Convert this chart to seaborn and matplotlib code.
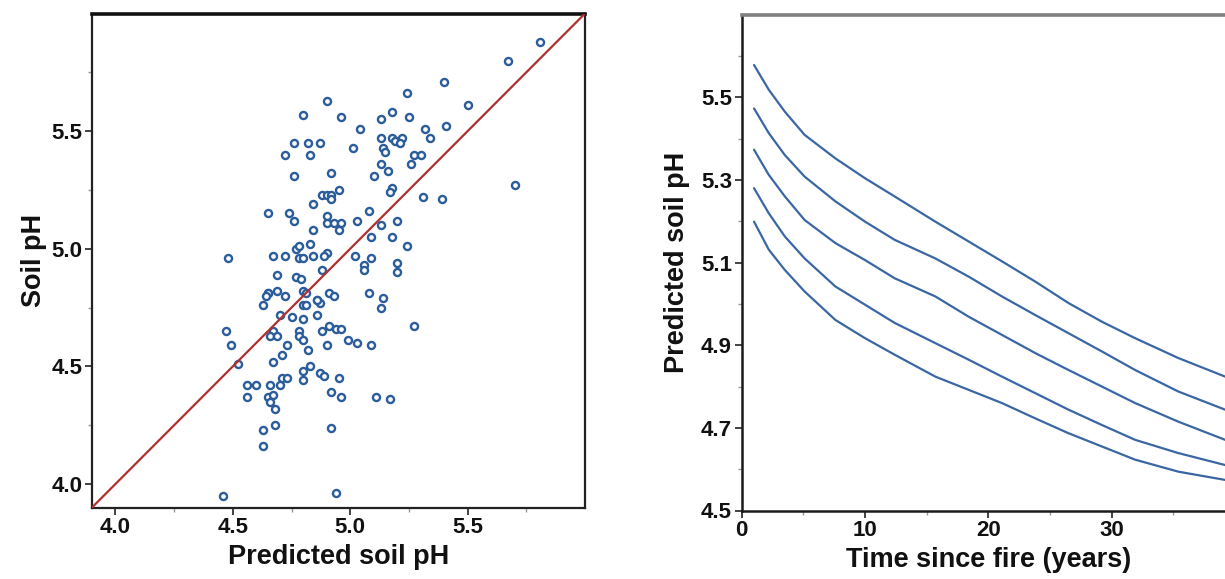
import matplotlib
matplotlib.use("Agg")
import matplotlib.pyplot as plt
from matplotlib.ticker import FixedLocator
import seaborn as sns
import pandas as pd

# Observed vs. model-predicted soil pH for the sampled plots
predicted_ph = [
    4.90, 4.80, 4.96, 5.04, 4.76, 4.82, 4.87, 5.01, 4.72, 4.83, 4.92, 4.76, 4.95, 4.88, 4.90, 4.92, 4.92,
    5.81, 5.67, 5.40, 5.24, 5.50, 5.18, 5.13, 5.25, 5.32, 5.41, 5.13, 5.18, 5.20, 5.22, 5.19, 5.21, 5.34,
    5.14, 5.15, 5.27, 5.30, 5.13, 5.26, 5.16, 5.10, 5.70, 5.18, 5.17, 5.31, 5.39,
    4.84, 4.65, 4.74, 4.76, 4.90, 4.90, 4.93, 4.96, 5.03, 5.08, 4.84, 4.95, 5.09, 4.83, 4.77, 4.78, 4.90,
    4.89, 4.48, 4.67, 4.72, 4.78, 4.80, 4.84, 5.02, 5.09, 4.88, 5.06, 5.06, 4.69, 4.77, 4.79, 4.65, 4.65,
    4.64, 4.69, 4.72, 4.80, 4.81, 4.91, 4.93, 5.08, 4.63, 4.80, 4.81, 4.86, 4.87, 4.86, 4.70, 4.75, 4.80,
    4.86, 4.47, 4.67, 4.66, 4.69, 4.78, 4.78, 4.80, 4.88, 4.91, 4.94, 4.96, 4.99, 5.03, 5.09, 4.49, 4.73,
    4.90, 4.71, 4.82, 4.67, 4.52, 4.83,
    5.13, 5.20, 5.18, 5.24, 5.20, 5.20, 5.14, 5.13, 5.27,
    4.80, 4.80, 4.87, 4.89, 4.95, 4.56, 4.60, 4.66, 4.70, 4.71, 4.73, 4.56, 4.65, 4.67, 4.66, 4.68, 4.92,
    4.96, 5.11, 5.17, 4.68, 4.92, 4.63, 4.63, 4.46, 4.94,
]
observed_ph = [
    5.63, 5.57, 5.56, 5.51, 5.45, 5.45, 5.45, 5.43, 5.40, 5.40, 5.32, 5.31, 5.25, 5.23, 5.23, 5.23, 5.21,
    5.88, 5.80, 5.71, 5.66, 5.61, 5.58, 5.55, 5.56, 5.51, 5.52, 5.47, 5.47, 5.46, 5.47, 5.46, 5.45, 5.47,
    5.43, 5.41, 5.40, 5.40, 5.36, 5.36, 5.33, 5.31, 5.27, 5.26, 5.24, 5.22, 5.21,
    5.19, 5.15, 5.15, 5.12, 5.14, 5.11, 5.11, 5.11, 5.12, 5.16, 5.08, 5.08, 5.05, 5.02, 5.00, 5.01, 4.98,
    4.97, 4.96, 4.97, 4.97, 4.96, 4.96, 4.97, 4.97, 4.96, 4.91, 4.93, 4.91, 4.89, 4.88, 4.87, 4.81, 4.81,
    4.80, 4.82, 4.80, 4.82, 4.81, 4.81, 4.80, 4.81, 4.76, 4.76, 4.76, 4.78, 4.77, 4.78, 4.72, 4.71, 4.70,
    4.72, 4.65, 4.65, 4.63, 4.63, 4.65, 4.63, 4.61, 4.65, 4.67, 4.66, 4.66, 4.61, 4.60, 4.59, 4.59, 4.59,
    4.59, 4.55, 4.57, 4.52, 4.51, 4.50,
    5.10, 5.12, 5.05, 5.01, 4.94, 4.90, 4.79, 4.75, 4.67,
    4.48, 4.44, 4.47, 4.46, 4.45, 4.42, 4.42, 4.42, 4.42, 4.45, 4.45, 4.37, 4.37, 4.38, 4.35, 4.32, 4.39,
    4.37, 4.37, 4.36, 4.25, 4.24, 4.23, 4.16, 3.95, 3.96,
]

# Predicted soil pH trajectories after fire (five scenarios, highest to lowest)
years_since_fire = [1, 2.2, 3.5, 5.1, 7.6, 10, 12.4, 15.7, 18.4, 21.1, 23.8, 26.5, 29.2, 31.9, 35.4, 39.2, 40]
curve_1 = [5.578, 5.518, 5.465, 5.409, 5.352, 5.304, 5.260, 5.199, 5.151, 5.103, 5.054, 5.002, 4.957, 4.917, 4.869, 4.824, 4.815]
curve_2 = [5.473, 5.413, 5.360, 5.308, 5.248, 5.199, 5.155, 5.110, 5.066, 5.018, 4.973, 4.929, 4.885, 4.840, 4.788, 4.744, 4.735]
curve_3 = [5.373, 5.312, 5.260, 5.203, 5.147, 5.106, 5.062, 5.018, 4.969, 4.925, 4.881, 4.840, 4.800, 4.760, 4.715, 4.671, 4.663]
curve_4 = [5.280, 5.219, 5.163, 5.110, 5.042, 4.998, 4.954, 4.905, 4.865, 4.824, 4.784, 4.744, 4.707, 4.671, 4.639, 4.610, 4.604]
curve_5 = [5.199, 5.131, 5.082, 5.030, 4.961, 4.917, 4.877, 4.824, 4.792, 4.760, 4.723, 4.687, 4.655, 4.623, 4.594, 4.574, 4.569]

x_ticks_left = [4.0, 4.5, 5.0, 5.5]
y_ticks_left = [4.0, 4.5, 5.0, 5.5]
x_ticks_right = [0, 10, 20, 30]
y_ticks_right = [4.5, 4.7, 4.9, 5.1, 5.3, 5.5]

sns.set_theme(style="ticks")
plt.rcParams["font.family"] = ["Liberation Sans", "DejaVu Sans"]
plt.rcParams["font.weight"] = "bold"
plt.rcParams["axes.labelweight"] = "bold"

W, H = 1225, 579
fig = plt.figure(figsize=(W / 100, H / 100), dpi=100)

def px_axes(left, top, right, bottom):
    return fig.add_axes([left / W, 1 - bottom / H, (right - left) / W, (bottom - top) / H])

point_color = "#2c5d9b"
line_color = "#3a67a3"
ref_color = "#b03030"

# ---- left panel: observed vs predicted
ax1 = px_axes(92, 13.5, 585, 507.5)
scatter_df = pd.DataFrame({"predicted": predicted_ph, "observed": observed_ph})
sns.scatterplot(data=scatter_df, x="predicted", y="observed", ax=ax1,
                marker="o", s=26, facecolor="white", edgecolor=point_color,
                linewidth=1.7, zorder=2)
ax1.axline((3.9, 3.9), slope=1, color=ref_color, lw=1.6, zorder=3)
ax1.set_xlim(3.9, 6.0)
ax1.set_ylim(3.9, 6.0)
ax1.xaxis.set_major_locator(FixedLocator(x_ticks_left))
ax1.yaxis.set_major_locator(FixedLocator(y_ticks_left))
ax1.xaxis.set_minor_locator(FixedLocator([4.25, 4.75, 5.25, 5.75]))
ax1.yaxis.set_minor_locator(FixedLocator([4.25, 4.75, 5.25, 5.75]))
ax1.set_xticklabels([f"{v:.1f}" for v in x_ticks_left])
ax1.set_yticklabels([f"{v:.1f}" for v in y_ticks_left])
ax1.set_xlabel("Predicted soil pH", fontsize=19.5, fontweight="bold", labelpad=4)
ax1.set_ylabel("Soil pH", fontsize=19.5, fontweight="bold", labelpad=3)
for side in ["left", "bottom", "right"]:
    ax1.spines[side].set_linewidth(1.6)
    ax1.spines[side].set_color("#222222")
ax1.spines["top"].set_linewidth(2.6)
ax1.spines["top"].set_color("#111111")

# ---- right panel: predicted pH over time since fire
ax2 = px_axes(741.7, 14.6, 1235, 510.5)
curves = [curve_1, curve_2, curve_3, curve_4, curve_5]
lines_df = pd.concat([
    pd.DataFrame({"years": years_since_fire, "ph": c, "scenario": f"s{i}"})
    for i, c in enumerate(curves, start=1)
])
sns.lineplot(data=lines_df, x="years", y="ph", units="scenario", estimator=None,
             color=line_color, lw=1.6, ax=ax2)
ax2.set_xlim(0, 40)
ax2.set_ylim(4.5, 5.7)
ax2.xaxis.set_major_locator(FixedLocator(x_ticks_right))
ax2.yaxis.set_major_locator(FixedLocator(y_ticks_right))
ax2.xaxis.set_minor_locator(FixedLocator([5, 15, 25, 35]))
ax2.yaxis.set_minor_locator(FixedLocator([4.6, 4.8, 5.0, 5.2, 5.4, 5.6]))
ax2.set_xticklabels([str(v) for v in x_ticks_right])
ax2.set_yticklabels([f"{v:.1f}" for v in y_ticks_right])
ax2.set_xlabel("Time since fire (years)", fontsize=19.5, fontweight="bold", labelpad=4)
ax2.set_ylabel("Predicted soil pH", fontsize=19.5, fontweight="bold", labelpad=8)
ax2.spines["right"].set_visible(False)
for side in ["left", "bottom"]:
    ax2.spines[side].set_linewidth(1.8)
    ax2.spines[side].set_color("#1a1a1a")
ax2.spines["top"].set_linewidth(2.6)
ax2.spines["top"].set_color("#808080")

for ax in (ax1, ax2):
    ax.tick_params(which="major", direction="out", length=5, width=1.3,
                   color="#333333", labelsize=16, pad=2, labelcolor="#111111")
    ax.tick_params(which="minor", direction="out", length=3, width=1.0, color="#999999")
    for lab in ax.get_xticklabels() + ax.get_yticklabels():
        lab.set_fontweight("bold")
    ax.xaxis.label.set_color("#111111")
    ax.yaxis.label.set_color("#111111")

fig.savefig("out.png", dpi=100)
